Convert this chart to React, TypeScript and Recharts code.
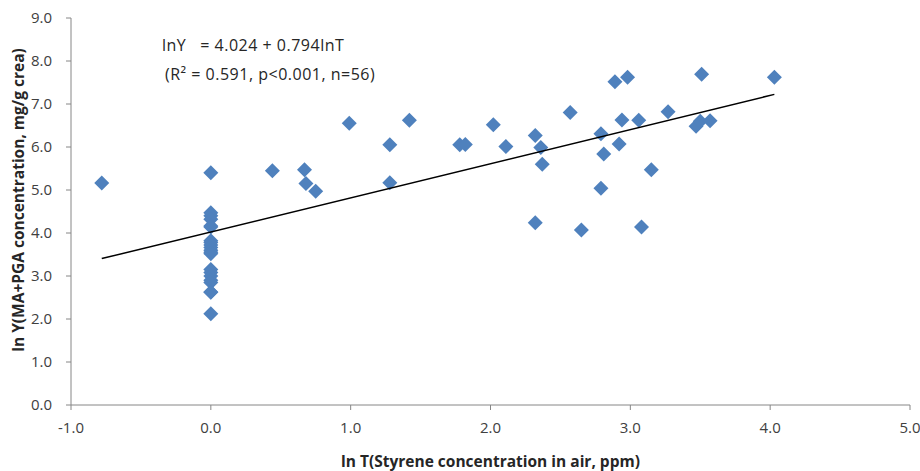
import React from 'react';
import { ScatterChart, Scatter, XAxis, YAxis } from 'recharts';

// ln T (x) and ln Y (y), n = 56
const lnT = [
  -0.78,
  0, 0, 0, 0, 0, 0, 0, 0, 0, 0, 0, 0, 0, 0, 0, 0, 0, 0, 0, 0, 0,
  0.44, 0.67, 0.68, 0.75, 0.99, 1.28, 1.28, 1.42, 1.78, 1.82, 2.02, 2.11,
  2.32, 2.32, 2.36, 2.37, 2.57, 2.65, 2.79, 2.79, 2.81, 2.89, 2.92, 2.94,
  2.98, 3.06, 3.08, 3.15, 3.27, 3.47, 3.5, 3.51, 3.57, 4.03,
];
const lnY = [
  5.16,
  5.4, 4.47, 4.4, 4.32, 4.16, 4.14, 3.82, 3.78, 3.72, 3.66, 3.6, 3.55, 3.52, 3.15, 3.08, 3.0, 2.9, 2.85, 2.63, 2.62, 2.12,
  5.45, 5.47, 5.15, 4.97, 6.55, 6.05, 5.17, 6.62, 6.05, 6.06, 6.52, 6.01,
  6.27, 4.24, 5.99, 5.6, 6.8, 4.07, 6.31, 5.04, 5.84, 7.52, 6.07, 6.63,
  7.62, 6.62, 4.14, 5.47, 6.82, 6.48, 6.6, 7.69, 6.61, 7.62,
];
const xTicks = [-1, 0, 1, 2, 3, 4, 5];
const yTicks = [0, 1, 2, 3, 4, 5, 6, 7, 8, 9];

// regression lnY = a + b lnT
const intercept = 4.024;
const slope = 0.794;

const points = lnT.map((x, i) => ({ x, y: lnY[i] }));
const xMin = Math.min(...lnT);
const xMax = Math.max(...lnT);
const fitLine = [
  { x: xMin, y: intercept + slope * xMin },
  { x: xMax, y: intercept + slope * xMax },
];

const font = '"Open Sans", "Noto Sans", sans-serif';
const axisColor = '#868686';

const Diamond = (props: any) => {
  const { cx, cy } = props;
  const r = 7.5;
  return (
    <polygon
      points={`${cx},${cy - r} ${cx + r},${cy} ${cx},${cy + r} ${cx - r},${cy}`}
      fill="#4F81BD"
    />
  );
};

const YTitle = () => (
  <text
    transform="translate(18,200) rotate(-90)"
    textAnchor="middle"
    dominantBaseline="central"
    fill="#262626"
    fontSize={15.5}
    fontWeight="bold"
    fontFamily={font}
  >
    ln Y(MA+PGA concentration, mg/g crea)
  </text>
);

const noteStyle: React.CSSProperties = {
  position: 'absolute',
  fontSize: 16,
  letterSpacing: 0.5,
  color: '#262626',
  whiteSpace: 'pre',
};

const App = () => {
  return (
    <div style={{ position: 'absolute', left: 0, top: 0, width: 920, height: 471, background: '#fff', fontFamily: font }}>
      <ScatterChart width={920} height={471} margin={{ top: 18, right: 10, bottom: 0, left: 0 }}>
        <XAxis
          type="number"
          dataKey="x"
          domain={[-1, 5]}
          ticks={xTicks}
          tickFormatter={(v: number) => v.toFixed(1)}
          height={66}
          stroke={axisColor}
          tickSize={5}
          tickMargin={12}
          tick={{ fill: '#404040', fontSize: 15, fontFamily: font }}
          label={{
            value: 'ln T(Styrene concentration in air, ppm)',
            position: 'insideBottom',
            offset: 4,
            style: { fill: '#262626', fontSize: 15.5, fontWeight: 'bold', fontFamily: font },
          }}
        />
        <YAxis
          type="number"
          dataKey="y"
          domain={[0, 9]}
          ticks={yTicks}
          tickFormatter={(v: number) => v.toFixed(1)}
          width={71}
          stroke={axisColor}
          tickSize={5}
          tickMargin={14}
          tick={{ fill: '#404040', fontSize: 15, fontFamily: font }}
          label={{ content: () => <YTitle /> }}
        />
        <Scatter data={points} shape={<Diamond />} isAnimationActive={false} />
        <Scatter
          data={fitLine}
          line={{ stroke: '#000', strokeWidth: 1.5 }}
          shape={() => <g />}
          isAnimationActive={false}
        />
      </ScatterChart>
      <div style={{ ...noteStyle, left: 162, top: 34 }}>{'lnY   = 4.024 + 0.794lnT'}</div>
      <div style={{ ...noteStyle, left: 165, top: 63 }}>{'(R² = 0.591, p<0.001, n=56)'}</div>
    </div>
  );
};

export default App;
